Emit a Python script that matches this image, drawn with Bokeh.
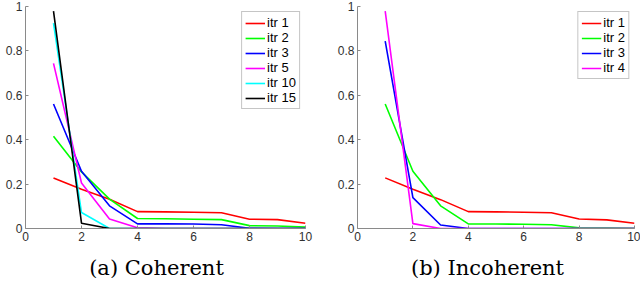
from bokeh.plotting import figure
from bokeh.layouts import row, column
from bokeh.models import Range1d, FixedTicker, NumeralTickFormatter, Legend, LegendItem, Label
from bokeh.embed import file_html
from bokeh.resources import INLINE

x = [1, 2, 3, 4, 5, 6, 7, 8, 9, 10]

# (a) Coherent
coh_labels = ["itr 1", "itr 2", "itr 3", "itr 5", "itr 10", "itr 15"]
coh_itr1 = [0.228, 0.177, 0.132, 0.076, 0.075, 0.073, 0.071, 0.042, 0.040, 0.024]
coh_itr2 = [0.415, 0.255, 0.132, 0.045, 0.044, 0.042, 0.040, 0.013, 0.011, 0.006]
coh_itr3 = [0.561, 0.258, 0.102, 0.021, 0.021, 0.020, 0.017, 0.001, 0.0, 0.0]
coh_itr5 = [0.744, 0.205, 0.043, 0.003, 0.0, 0.0, 0.0, 0.0, 0.0, 0.0]
coh_itr10 = [0.925, 0.072, 0.0, 0.0, 0.0, 0.0, 0.0, 0.0, 0.0, 0.0]
coh_itr15 = [0.979, 0.024, 0.0, 0.0, 0.0, 0.0, 0.0, 0.0, 0.0, 0.0]
coh_colors = ["#ff0000", "#00ff00", "#0000ff", "#ff00ff", "#00ffff", "#000000"]

# (b) Incoherent
inc_labels = ["itr 1", "itr 2", "itr 3", "itr 4"]
inc_itr1 = [0.228, 0.177, 0.130, 0.076, 0.075, 0.073, 0.071, 0.043, 0.039, 0.024]
inc_itr2 = [0.561, 0.258, 0.102, 0.021, 0.020, 0.019, 0.017, 0.003, 0.002, 0.001]
inc_itr3 = [0.844, 0.139, 0.016, 0.0, 0.0, 0.0, 0.0, 0.0, 0.0, 0.0]
inc_itr4 = [0.979, 0.022, 0.0, 0.0, 0.0, 0.0, 0.0, 0.0, 0.0, 0.0]
inc_colors = ["#ff0000", "#00ff00", "#0000ff", "#ff00ff"]

x_ticks = [0, 2, 4, 6, 8, 10]
y_ticks = [0, 0.2, 0.4, 0.6, 0.8, 1]

captions = ["(a) Coherent", "(b) Incoherent"]

AXIS_COLOR = "#8a8a8a"
LABEL_COLOR = "#303030"


def make_panel(series, labels, colors, frame_width, min_left, min_right):
    p = figure(output_backend="svg", toolbar_location=None,
               frame_width=frame_width, frame_height=222,
               x_range=Range1d(0, 10), y_range=Range1d(0, 1),
               min_border_left=min_left, min_border_right=min_right,
               min_border_top=6, min_border_bottom=20)
    p.outline_line_color = None
    p.background_fill_color = "white"
    p.border_fill_color = "white"
    p.xgrid.visible = False
    p.ygrid.visible = False
    p.xaxis.ticker = FixedTicker(ticks=x_ticks)
    p.yaxis.ticker = FixedTicker(ticks=y_ticks)
    p.yaxis.formatter = NumeralTickFormatter(format="0.[0]")
    for ax in (p.xaxis, p.yaxis):
        ax.axis_line_color = AXIS_COLOR
        ax.major_tick_line_color = AXIS_COLOR
        ax.major_tick_in = 3
        ax.major_tick_out = 0
        ax.minor_tick_line_color = None
        ax.major_label_text_font = "Liberation Sans"
        ax.major_label_text_font_size = "12px"
        ax.major_label_text_color = LABEL_COLOR
    p.xaxis.major_label_standoff = 3
    p.yaxis.major_label_standoff = 3

    items = []
    for ys, lab, col in zip(series, labels, colors):
        r = p.line(x, ys, line_color=col, line_width=1.6)
        items.append(LegendItem(label=lab, renderers=[r]))
    leg = Legend(items=items, location="top_right")
    leg.label_text_font = "Liberation Sans"
    leg.label_text_font_size = "13px"
    leg.label_text_color = "black"
    leg.label_height = 14
    leg.glyph_height = 14
    leg.glyph_width = 20
    leg.spacing = 0
    leg.padding = 3
    leg.margin = 5
    leg.label_standoff = 2
    leg.border_line_color = "#8c8c8c"
    leg.border_line_width = 1
    leg.background_fill_color = "white"
    leg.background_fill_alpha = 1.0
    p.add_layout(leg)
    return p


def make_caption(text, width, cx):
    c = figure(output_backend="svg", toolbar_location=None,
               width=width, height=30,
               x_range=Range1d(0, width), y_range=Range1d(0, 30),
               x_axis_type=None, y_axis_type=None,
               min_border=0)
    c.outline_line_color = None
    c.xgrid.visible = False
    c.ygrid.visible = False
    c.border_fill_color = "white"
    c.background_fill_color = "white"
    c.add_layout(Label(x=cx, y=11, text=text, text_align="center",
                       text_baseline="alphabetic", text_font="DejaVu Serif",
                       text_font_size="21px", text_color="black"))
    return c


p1 = make_panel([coh_itr1, coh_itr2, coh_itr3, coh_itr5, coh_itr10, coh_itr15],
                coh_labels, coh_colors, 280, 25, 10)
p2 = make_panel([inc_itr1, inc_itr2, inc_itr3, inc_itr4],
                inc_labels, inc_colors, 277, 42, 6)
c1 = make_caption(captions[0], 315, 156)
c2 = make_caption(captions[1], 325, 172)

layout = column(row(p1, p2, spacing=0), row(c1, c2, spacing=0), spacing=0)
open("out.html", "w").write(file_html(layout, INLINE))
